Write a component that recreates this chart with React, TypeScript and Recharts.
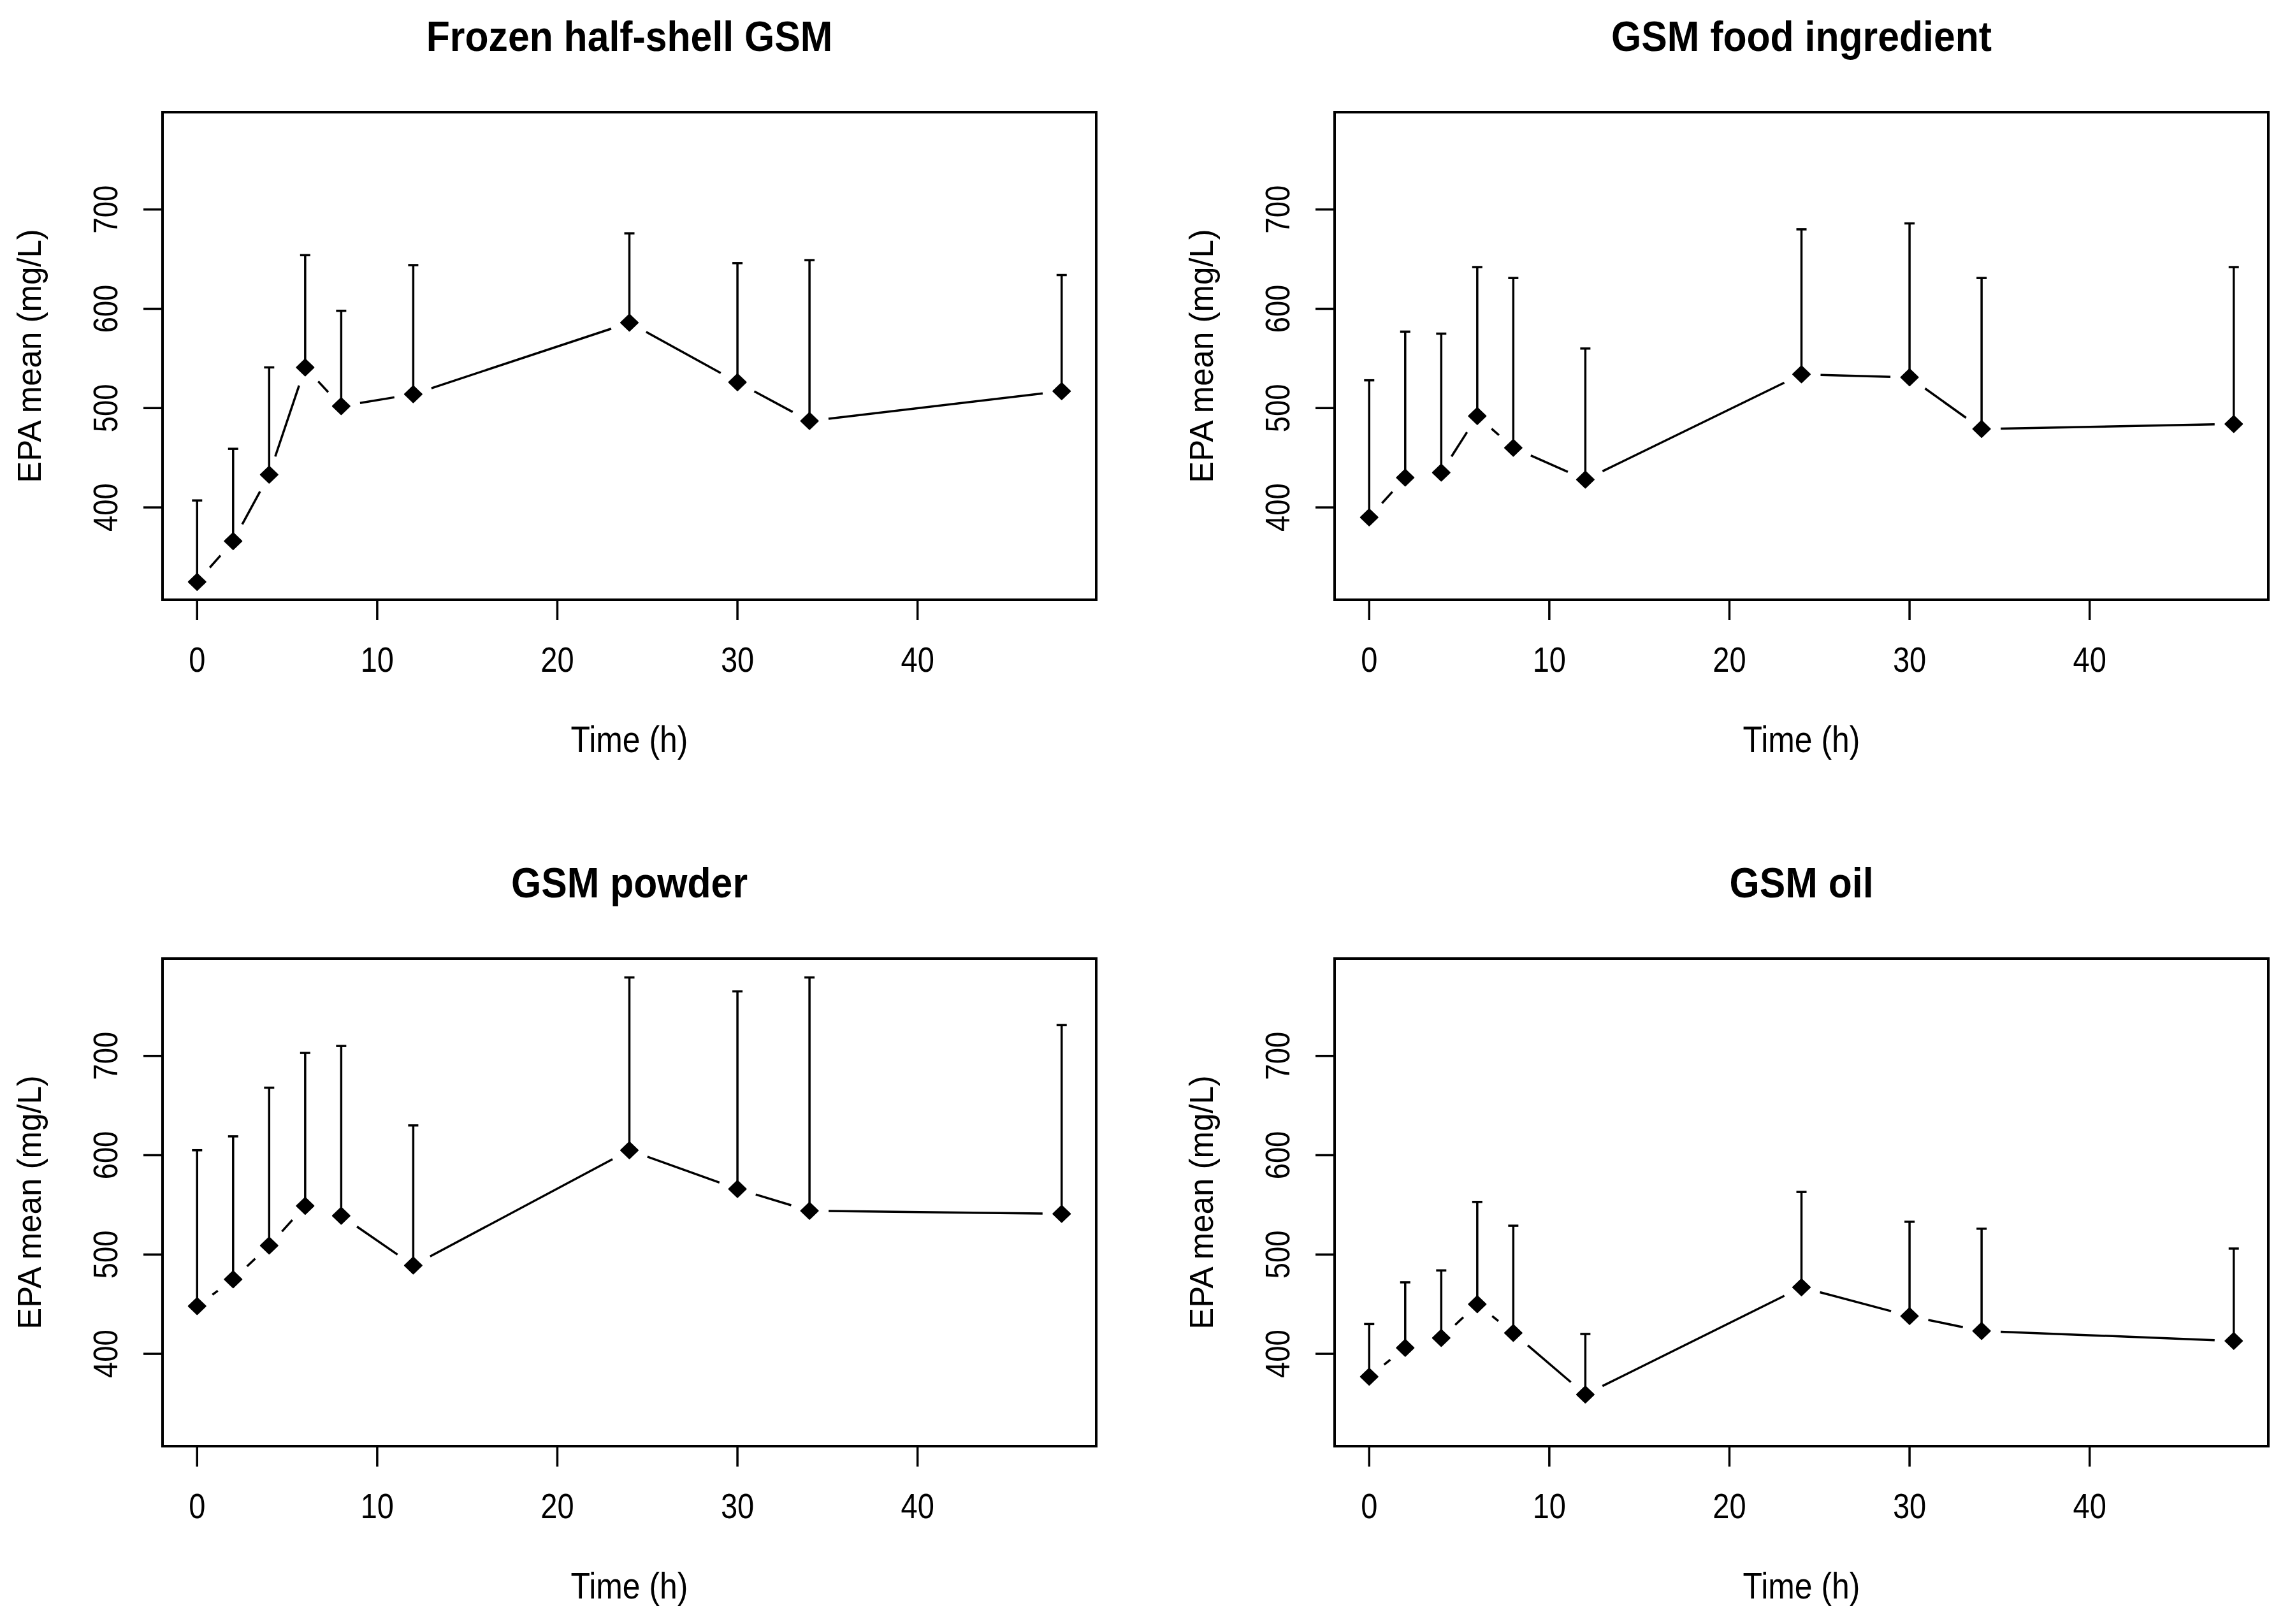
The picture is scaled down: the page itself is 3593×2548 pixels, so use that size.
import React from "react";
import { LineChart, Line, XAxis, YAxis, ErrorBar, ReferenceArea } from "recharts";

// ---------- data ----------
const times = [0, 2, 4, 6, 8, 12, 24, 30, 34, 48];

const frozenMean = [325, 366, 433, 541, 502, 514, 586, 526, 487, 517];
const frozenUpper = [407, 459, 541, 654, 598, 644, 676, 646, 649, 634];

const foodMean = [390, 430, 435, 492, 460, 428, 534, 531, 479, 484];
const foodUpper = [528, 577, 575, 642, 631, 560, 680, 686, 631, 642];

const powderMean = [448, 475, 509, 549, 539, 489, 605, 566, 544, 541];
const powderUpper = [605, 619, 668, 703, 710, 630, 779, 765, 779, 731];

const oilMean = [377, 406, 416, 450, 421, 359, 467, 438, 423, 413];
const oilUpper = [430, 472, 484, 553, 529, 420, 563, 533, 526, 506];

const panelTitles = ["Frozen half-shell GSM", "GSM food ingredient", "GSM powder", "GSM oil"];
const xTicks = [0, 10, 20, 30, 40];
const yTicks = [400, 500, 600, 700];
const xLabel = "Time (h)";
const yLabel = "EPA mean (mg/L)";
const xDomain: [number, number] = [-1.92, 49.92];
const yDomain: [number, number] = [307, 798];

// ---------- style / layout ----------
const FONT = "'Liberation Sans', Arial, Helvetica, sans-serif";
const CHART_W = 1750;
const CHART_H = 1218;
const MARGIN = { top: 176, right: 30, left: 0, bottom: 27 };
const Y_AXIS_W = 255;
const X_AXIS_H = 250;
const GAP = 30;

const build = (mean: number[], upper: number[]) =>
  times.map((t, i) => ({ t, y: mean[i], err: [0, upper[i] - mean[i]] }));

const panels = [
  { title: panelTitles[0], data: build(frozenMean, frozenUpper), left: 0, top: 0 },
  { title: panelTitles[1], data: build(foodMean, foodUpper), left: 1839, top: 0 },
  { title: panelTitles[2], data: build(powderMean, powderUpper), left: 0, top: 1328 },
  { title: panelTitles[3], data: build(oilMean, oilUpper), left: 1839, top: 1328 },
];

const XTick = (props: any) => {
  const { x, y, payload } = props;
  return (
    <text
      transform={`translate(${x},${y + 81}) scale(0.84,1)`}
      textAnchor="middle"
      fontSize={56}
      fontFamily={FONT}
      fill="#000"
    >
      {payload.value}
    </text>
  );
};

const YTick = (props: any) => {
  const { x, y, payload } = props;
  return (
    <text
      transform={`translate(${x - 41},${y}) rotate(-90) scale(0.84,1)`}
      textAnchor="middle"
      fontSize={54}
      fontFamily={FONT}
      fill="#000"
    >
      {payload.value}
    </text>
  );
};

const XTitle = (props: any) => {
  const vb = props.viewBox || {};
  const cx = vb.x + vb.width / 2;
  const y = vb.y + 239;
  return (
    <text
      transform={`translate(${cx},${y}) scale(0.86,1)`}
      textAnchor="middle"
      fontSize={58}
      fontFamily={FONT}
      fill="#000"
    >
      {xLabel}
    </text>
  );
};

const YTitle = (props: any) => {
  const vb = props.viewBox || {};
  const cy = vb.y + vb.height / 2;
  const x = vb.x + 64;
  return (
    <text
      transform={`translate(${x},${cy}) rotate(-90)`}
      textAnchor="middle"
      fontSize={51}
      fontFamily={FONT}
      fill="#000"
    >
      {yLabel}
    </text>
  );
};

const DiamondDot = (props: any) => {
  const { cx, cy, index, points } = props;
  if (cx == null || cy == null) return <g key={`d-${index}`} />;
  let seg = null;
  if (points && index < points.length - 1) {
    const p = points[index + 1];
    const dx = p.x - cx;
    const dy = p.y - cy;
    const len = Math.hypot(dx, dy);
    if (len > 2 * GAP) {
      const ux = dx / len;
      const uy = dy / len;
      seg = (
        <line
          x1={cx + ux * GAP}
          y1={cy + uy * GAP}
          x2={p.x - ux * GAP}
          y2={p.y - uy * GAP}
          stroke="#000"
          strokeWidth={3.5}
        />
      );
    }
  }
  const hw = 13.5;
  const hh = 13;
  return (
    <g key={`d-${index}`}>
      {seg}
      <polygon
        points={`${cx},${cy - hh} ${cx + hw},${cy} ${cx},${cy + hh} ${cx - hw},${cy}`}
        fill="#000"
        stroke="#000"
        strokeWidth={2}
        strokeLinejoin="round"
      />
    </g>
  );
};

const Panel = ({ title, data }: { title: string; data: any[] }) => {
  const plotCx = Y_AXIS_W + (CHART_W - Y_AXIS_W - MARGIN.right) / 2;
  return (
    <div style={{ position: "relative", width: CHART_W, height: CHART_H }}>
      <LineChart width={CHART_W} height={CHART_H} data={data} margin={MARGIN}>
        <XAxis
          type="number"
          dataKey="t"
          domain={xDomain}
          ticks={xTicks}
          allowDataOverflow
          axisLine={false}
          tickLine={{ stroke: "#000", strokeWidth: 3.5 }}
          tickSize={32}
          tickMargin={0}
          tick={<XTick />}
          height={X_AXIS_H}
          interval={0}
          label={{ content: <XTitle /> }}
        />
        <YAxis
          type="number"
          domain={yDomain}
          ticks={yTicks}
          allowDataOverflow
          axisLine={false}
          tickLine={{ stroke: "#000", strokeWidth: 3.5 }}
          tickSize={30}
          tickMargin={0}
          tick={<YTick />}
          width={Y_AXIS_W}
          interval={0}
          label={{ content: <YTitle /> }}
        />
        <ReferenceArea
          x1={xDomain[0]}
          x2={xDomain[1]}
          y1={yDomain[0]}
          y2={yDomain[1]}
          fill="none"
          fillOpacity={0}
          stroke="#000"
          strokeWidth={4}
          ifOverflow="visible"
        />
        <Line
          type="linear"
          dataKey="y"
          stroke="none"
          isAnimationActive={false}
          dot={<DiamondDot />}
          activeDot={false}
        >
          <ErrorBar
            dataKey="err"
            direction="y"
            width={8}
            stroke="#000"
            strokeWidth={3.5}
            isAnimationActive={false}
          />
        </Line>
      </LineChart>
      <svg
        width={CHART_W}
        height={130}
        style={{ position: "absolute", left: 0, top: 0, pointerEvents: "none" }}
      >
        <text
          transform={`translate(${plotCx},80) scale(0.92,1)`}
          textAnchor="middle"
          fontSize={66}
          fontWeight="bold"
          fontFamily={FONT}
          fill="#000"
        >
          {title}
        </text>
      </svg>
    </div>
  );
};

export default function App() {
  return (
    <div
      style={{
        position: "absolute",
        left: 0,
        top: 0,
        width: 3593,
        height: 2548,
        background: "#fff",
        overflow: "hidden",
      }}
    >
      {panels.map((p) => (
        <div key={p.title} style={{ position: "absolute", left: p.left, top: p.top }}>
          <Panel title={p.title} data={p.data} />
        </div>
      ))}
    </div>
  );
}
